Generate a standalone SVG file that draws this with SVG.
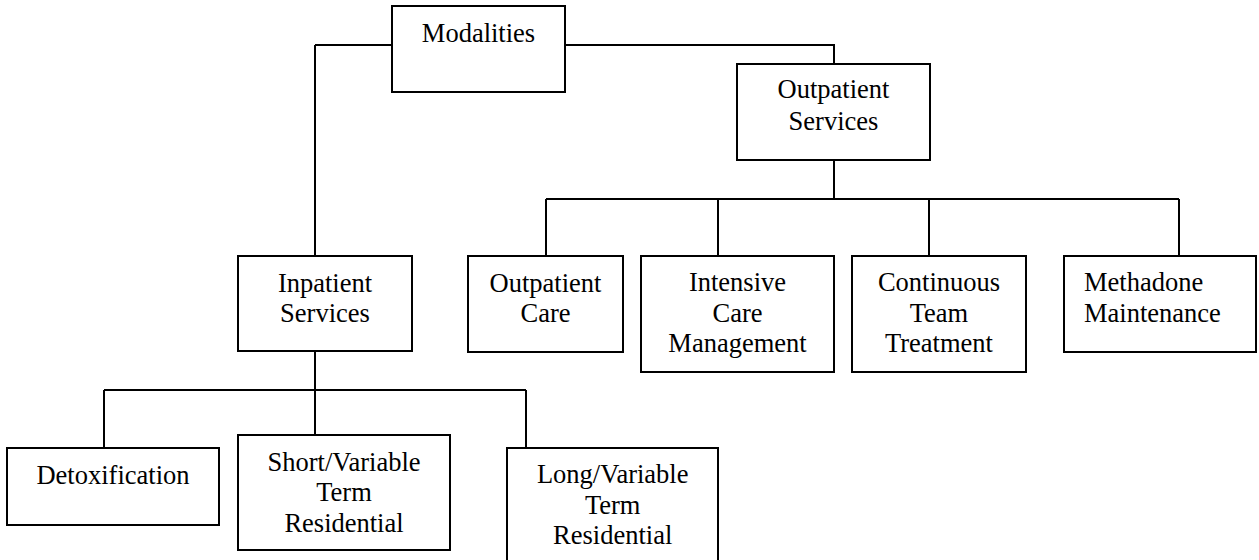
<svg xmlns="http://www.w3.org/2000/svg" width="1259" height="560" viewBox="0 0 1259 560">
<style>
.box{fill:#fff;stroke:#000;stroke-width:2}
.ln{fill:none;stroke:#000;stroke-width:2}
text{font-family:"Liberation Serif","Times New Roman",serif;font-size:26.5px;fill:#000;text-anchor:middle}
.l{text-anchor:start}
</style>
<rect width="1259" height="560" fill="#fff"/>
<g id="connectors">
<path class="ln" d="M315,45 H392 M565,45 H834 V64 M315,45 V256"/>
<path class="ln" d="M834,160 V199 M546,199 H1179 M546,199 V256 M718,199 V256 M929,199 V256 M1179,199 V256"/>
<path class="ln" d="M315,351 V390 M104,390 H526 M104,390 V448 M315,390 V435 M526,390 V448"/>
</g>
<g id="modalities">
<rect class="box" x="392" y="6" width="173" height="86"/>
<text x="478.5" y="42">Modalities</text>
</g>
<g id="outpatient-services">
<rect class="box" x="737" y="64" width="193" height="96"/>
<text x="833.5" y="98">Outpatient</text>
<text x="833.5" y="130">Services</text>
</g>
<g id="inpatient-services">
<rect class="box" x="238" y="256" width="174" height="95"/>
<text x="325" y="291.5">Inpatient</text>
<text x="325" y="322">Services</text>
</g>
<g id="outpatient-care">
<rect class="box" x="468" y="256" width="155" height="96"/>
<text x="545.5" y="291.5">Outpatient</text>
<text x="545.5" y="322">Care</text>
</g>
<g id="intensive-care-management">
<rect class="box" x="641" y="256" width="193" height="116"/>
<text x="737.5" y="291">Intensive</text>
<text x="737.5" y="321.5">Care</text>
<text x="737.5" y="352">Management</text>
</g>
<g id="continuous-team-treatment">
<rect class="box" x="852" y="256" width="174" height="116"/>
<text x="939" y="291">Continuous</text>
<text x="939" y="321.5">Team</text>
<text x="939" y="352">Treatment</text>
</g>
<g id="methadone-maintenance">
<rect class="box" x="1064" y="256" width="192" height="96"/>
<text class="l" x="1084" y="290.5">Methadone</text>
<text class="l" x="1084" y="322">Maintenance</text>
</g>
<g id="detoxification">
<rect class="box" x="7" y="448" width="212" height="77"/>
<text x="113" y="484">Detoxification</text>
</g>
<g id="short-variable-term-residential">
<rect class="box" x="238" y="435" width="212" height="115"/>
<text x="344" y="471">Short/Variable</text>
<text x="344" y="501">Term</text>
<text x="344" y="531.5">Residential</text>
</g>
<g id="long-variable-term-residential">
<rect class="box" x="507" y="448" width="211" height="122"/>
<text x="612.7" y="483">Long/Variable</text>
<text x="612.7" y="514">Term</text>
<text x="612.7" y="544">Residential</text>
</g>
</svg>
